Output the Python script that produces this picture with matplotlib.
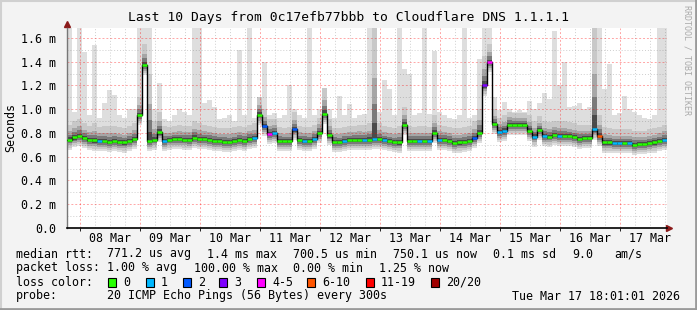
import numpy as np
import matplotlib
matplotlib.use("Agg")
import matplotlib.pyplot as plt
from matplotlib.patches import Rectangle
from matplotlib.lines import Line2D

W, H = 697, 310
MONO = "DejaVu Sans Mono"

# 2 h bins, first bin starts 5.3 h before 08 Mar 00:00
BIN_H = 2.0
T0 = -5.3

# median rtt per bin (ms)
median_ms = [
    0.745, 0.763, 0.775, 0.757, 0.744, 0.737, 0.735, 0.733, 0.722, 0.735,
    0.727, 0.720, 0.733, 0.752, 0.950, 1.370, 0.730, 0.745, 0.805, 0.735,
    0.745, 0.747, 0.747, 0.745, 0.741, 0.760, 0.752, 0.748, 0.744, 0.733,
    0.733, 0.727, 0.724, 0.730, 0.742, 0.735, 0.750, 0.755, 0.955, 0.860,
    0.790, 0.800, 0.735, 0.730, 0.730, 0.830, 0.740, 0.735, 0.730, 0.750,
    0.800, 0.960, 0.780, 0.727, 0.724, 0.733, 0.740, 0.742, 0.744, 0.740,
    0.744, 0.750, 0.752, 0.740, 0.730, 0.725, 0.720, 0.870, 0.730, 0.735,
    0.735, 0.735, 0.735, 0.800, 0.744, 0.742, 0.735, 0.716, 0.720, 0.727,
    0.733, 0.758, 0.800, 1.200, 1.395, 0.875, 0.810, 0.820, 0.870, 0.867,
    0.866, 0.870, 0.820, 0.770, 0.825, 0.775, 0.770, 0.786, 0.778, 0.778,
    0.772, 0.764, 0.752, 0.758, 0.755, 0.830, 0.775, 0.720, 0.720, 0.715,
    0.716, 0.716, 0.716, 0.700, 0.707, 0.707, 0.713, 0.720, 0.730, 0.744,
]

# upper edge of the dense smoke (ms)
smoke_hi_ms = [
    0.87, 0.90, 0.92, 0.88, 0.86, 0.88, 0.85, 0.86, 0.86, 0.86,
    0.85, 0.84, 0.86, 0.88, 1.10, 1.55, 1.30, 0.90, 0.98, 0.86,
    0.85, 0.86, 0.87, 0.86, 0.86, 0.90, 0.88, 0.87, 0.86, 0.85,
    0.84, 0.84, 0.84, 0.85, 0.86, 0.85, 0.87, 0.88, 1.10, 1.00,
    0.92, 0.92, 0.85, 0.84, 0.85, 0.98, 0.86, 0.85, 0.85, 0.87,
    0.93, 1.18, 0.92, 0.84, 0.84, 0.85, 0.86, 0.86, 0.87, 0.87,
    0.88, 1.68, 0.88, 0.86, 0.85, 0.84, 0.86, 1.02, 0.86, 0.85,
    0.86, 0.86, 0.85, 0.95, 0.87, 0.86, 0.85, 0.84, 0.84, 0.85,
    0.86, 0.90, 1.00, 1.45, 1.55, 1.00, 0.93, 0.95, 0.98, 0.97,
    0.97, 0.97, 0.95, 0.90, 0.94, 0.90, 0.89, 0.90, 0.90, 0.90,
    0.89, 0.88, 0.87, 0.87, 0.87, 1.68, 0.95, 0.85, 0.84, 0.83,
    0.83, 0.83, 0.83, 0.82, 0.82, 0.82, 0.83, 0.84, 0.85, 0.87,
]

# max ping per bin (ms)
ping_max_ms = [
    1.68, 0.98, 1.68, 1.48, 0.95, 1.54, 0.93, 1.05, 1.16, 1.12,
    0.95, 0.93, 1.00, 1.00, 1.68, 1.68, 1.68, 1.00, 1.22, 0.92,
    0.90, 0.95, 1.00, 0.98, 0.95, 1.68, 1.68, 1.05, 1.08, 1.02,
    0.92, 0.93, 0.95, 0.90, 1.50, 0.95, 1.68, 0.93, 1.10, 1.40,
    0.95, 0.97, 0.93, 0.95, 1.20, 1.00, 0.95, 0.93, 1.68, 0.95,
    1.00, 1.18, 1.00, 0.93, 1.11, 0.95, 1.04, 0.93, 0.95, 0.96,
    1.68, 1.68, 0.98, 1.25, 1.17, 0.95, 1.68, 1.34, 1.30, 0.95,
    0.97, 1.68, 0.96, 1.49, 0.98, 0.95, 0.93, 0.92, 0.95, 1.68,
    0.93, 0.95, 1.42, 1.68, 1.68, 1.10, 0.99, 1.06, 1.00, 0.98,
    0.99, 0.98, 1.07, 1.00, 1.05, 1.14, 1.09, 1.66, 1.20, 1.40,
    1.02, 1.03, 1.05, 1.00, 1.02, 1.68, 1.68, 1.17, 1.38, 0.95,
    0.97, 1.11, 1.00, 0.98, 0.95, 0.93, 0.92, 0.95, 1.68, 1.68,
]

# loss colour class per bin (index into loss_labels)
loss_class = [
    0, 0, 0, 0, 0, 0, 1, 0, 0, 0,
    0, 0, 0, 0, 0, 0, 0, 0, 0, 1,
    0, 0, 0, 0, 0, 0, 0, 0, 0, 0,
    0, 0, 0, 0, 0, 0, 0, 1, 0, 2,
    4, 1, 0, 0, 0, 2, 0, 1, 0, 1,
    0, 0, 0, 0, 0, 1, 0, 0, 0, 1,
    0, 1, 0, 1, 0, 0, 0, 0, 0, 0,
    1, 0, 1, 0, 1, 0, 0, 0, 0, 0,
    0, 2, 0, 3, 4, 0, 1, 1, 0, 0,
    0, 0, 0, 1, 0, 1, 0, 0, 1, 0,
    0, 0, 0, 0, 0, 1, 5, 0, 0, 1,
    1, 0, 1, 0, 0, 0, 0, 0, 0, 1,
]

loss_labels = ["0", "1", "2", "3", "4-5", "6-10", "11-19", "20/20"]
loss_colors = ["#26ff00", "#00b8ff", "#0059ff", "#7e00ff",
               "#ff00ff", "#ff5500", "#ff0000", "#a00000"]
loss_box_x = [108, 146, 183, 219, 257, 307, 366, 431]

day_labels = ["08 Mar", "09 Mar", "10 Mar", "11 Mar", "12 Mar",
              "13 Mar", "14 Mar", "15 Mar", "16 Mar", "17 Mar"]
y_ticks = [0.0, 0.2, 0.4, 0.6, 0.8, 1.0, 1.2, 1.4, 1.6]


def ftext(x, y, s, **kw):
    kw.setdefault("family", MONO)
    kw.setdefault("fontsize", 8.4)
    kw.setdefault("va", "center")
    fig.text(x / W, 1 - y / H, s, **kw)


fig = plt.figure(figsize=(W / 100, H / 100), dpi=100, facecolor="#f3f3f3")

ax = fig.add_axes([67 / W, 82 / H, 600 / W, 200 / H])
ax.set_xlim(T0, T0 + 240)
ax.set_ylim(0, 1.684)
ax.set_facecolor("white")

med = np.array(median_ms)
hi = np.array(smoke_hi_ms)
top = np.array(ping_max_ms)
n = len(med)
t_left = T0 + BIN_H * np.arange(n)

# smoke layers, light to dark
up = hi - med
layers = [
    ("#dedede", med - 0.085, top),
    ("#c8c8c8", med - 0.068, hi),
    ("#a6a6a6", med - 0.05, med + 0.55 * up),
    ("#7a7a7a", med - 0.033, med + 0.32 * up),
    ("#4a4a4a", med - 0.018, med + 0.14 * up),
]
for color, lo, up_edge in layers:
    ax.bar(t_left, up_edge - lo, bottom=lo, width=BIN_H, align="edge",
           color=color, linewidth=0, zorder=1)

# grid (drawn over the smoke like rrdtool)
for k in range(-1, 41):
    t = k * 6
    if t < T0 or t > T0 + 240:
        continue
    if k % 4 == 0:
        ax.axvline(t, color=(1, 0, 0, 0.35), lw=0.7, ls=(0, (2, 2)), zorder=2)
    else:
        ax.axvline(t, color=(0.45, 0.45, 0.45, 0.35), lw=0.7, ls=(0, (1, 2)), zorder=2)
for k in range(1, 17):
    v = k * 0.1
    if k % 2 == 0:
        ax.axhline(v, color=(1, 0, 0, 0.35), lw=0.7, ls=(0, (2, 2)), zorder=2)
    else:
        ax.axhline(v, color=(0.45, 0.45, 0.45, 0.35), lw=0.7, ls=(0, (1, 2)), zorder=2)

# median line + loss colours
edges = np.append(t_left, t_left[-1] + BIN_H)
ax.step(edges, np.append(med, med[-1]), where="post", color="black", lw=1.0, zorder=3)
ax.hlines(med, t_left, t_left + BIN_H,
          colors=[loss_colors[c] for c in loss_class], lw=1.8, zorder=4)

# axes
for s in ["top", "right"]:
    ax.spines[s].set_visible(False)
ax.spines["left"].set_color("#777777")
ax.spines["bottom"].set_color("black")
ax.spines["left"].set_linewidth(1.0)
ax.spines["bottom"].set_linewidth(1.2)
ax.plot([0], [1.022], marker="^", color="#8b1a1a", ms=4, transform=ax.transAxes, clip_on=False)
ax.plot([1.004], [0], marker=">", color="#8b1a1a", ms=4, transform=ax.transAxes, clip_on=False)

ax.set_yticks(y_ticks)
ax.set_yticklabels(["0.0" if v == 0 else f"{v:.1f} m" for v in y_ticks],
                   family=MONO, fontsize=8.4)
ax.tick_params(axis="y", length=0, pad=8)
ax.set_xticks([12 + 24 * k for k in range(len(day_labels))])
ax.set_xticklabels(day_labels, family=MONO, fontsize=8.4)
ax.tick_params(axis="x", length=0, pad=3)
ax.set_xticks([24 * k for k in range(10)], minor=True)
ax.tick_params(axis="x", which="minor", length=2, color="black")

# texts
ftext(348, 18, "Last 10 Days from 0c17efb77bbb to Cloudflare DNS 1.1.1.1",
      ha="center", fontsize=9.4)
ftext(11, 128, "Seconds", ha="center", rotation=90)
ftext(687, 5, "RRDTOOL / TOBI OETIKER", ha="center", va="top", rotation=270,
      fontsize=6, color="#aaaaaa")

ftext(16, 254, "median rtt:")
for x, s in [(107, "771.2 us avg"), (207, "1.4 ms max"), (293, "700.5 us min"),
             (393, "750.1 us now"), (493, "0.1 ms sd"), (572, "9.0"), (614, "am/s")]:
    ftext(x, 254, s)
ftext(16, 268, "packet loss:")
for x, s in [(107, "1.00 % avg"), (194, "100.00 % max"), (293, "0.00 % min"),
             (379, "1.25 % now")]:
    ftext(x, 268, s)
ftext(16, 282, "loss color:")
for bx, lab, col in zip(loss_box_x, loss_labels, loss_colors):
    fig.add_artist(Rectangle((bx / W, 1 - 286.5 / H), 8 / W, 8.5 / H, facecolor=col,
                             edgecolor="black", lw=0.8, transform=fig.transFigure))
    ftext(bx + 15, 282, lab)
ftext(16, 296, "probe:")
ftext(107, 296, "20 ICMP Echo Pings (56 Bytes) every 300s")
ftext(680, 296, "Tue Mar 17 18:01:01 2026", ha="right")

# frame
fig.add_artist(Line2D([0, 1], [1 - 0.5 / H, 1 - 0.5 / H], color="#d0d0d0", lw=1.5, transform=fig.transFigure))
fig.add_artist(Line2D([0.5 / W, 0.5 / W], [0, 1], color="#d0d0d0", lw=1.5, transform=fig.transFigure))
fig.add_artist(Line2D([0, 1], [1 / H, 1 / H], color="#9a9a9a", lw=2, transform=fig.transFigure))
fig.add_artist(Line2D([1 - 1 / W, 1 - 1 / W], [0, 1], color="#9a9a9a", lw=2, transform=fig.transFigure))

fig.savefig("out.png", dpi=100, facecolor=fig.get_facecolor())
